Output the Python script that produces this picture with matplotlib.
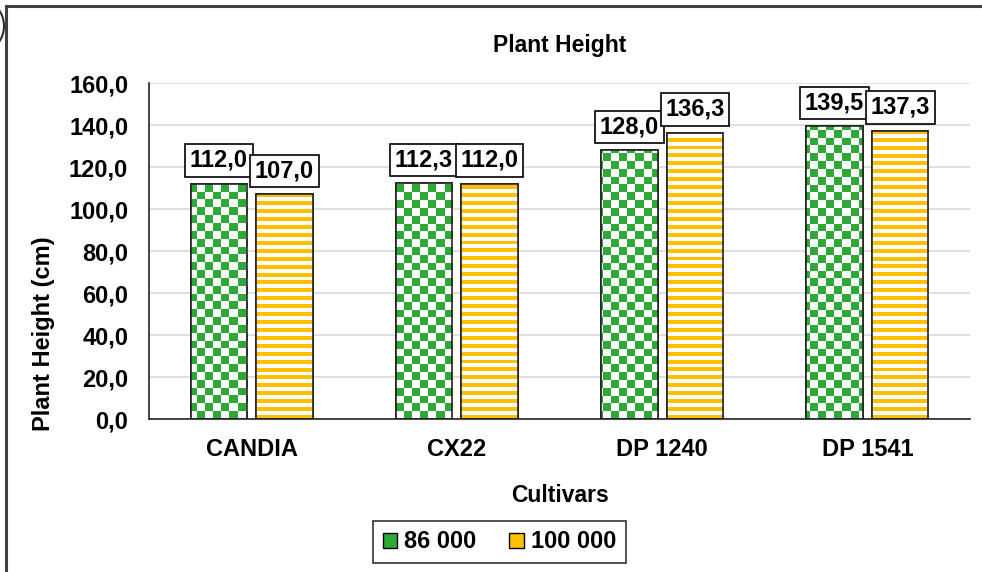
import numpy as np
import matplotlib
matplotlib.use("Agg")
import matplotlib.pyplot as plt
from matplotlib.patches import Patch, Arc
from matplotlib.lines import Line2D

plt.rcParams['font.family'] = ['Liberation Sans', 'DejaVu Sans']
plt.rcParams['font.weight'] = 'bold'

cultivars = ['CANDIA', 'CX22', 'DP 1240', 'DP 1541']
series_names = ['86 000', '100 000']
h_86000 = [112.0, 112.3, 128.0, 139.5]
h_100000 = [107.0, 112.0, 136.3, 137.3]
yticks = [0, 20, 40, 60, 80, 100, 120, 140, 160]

green = '#2ea836'
gold = '#ffc000'

W, H = 982, 572
fig = plt.figure(figsize=(W / 100, H / 100), dpi=100)
ax = fig.add_axes([149 / W, 1 - 419 / H, 821 / W, 336 / H])

x = np.arange(len(cultivars))
bw = 0.275
off = 0.16
ax.set_xlim(-0.5, len(cultivars) - 0.5)
ax.set_ylim(0, 160)

# textures (checkerboard / horizontal stripes) laid over whole axes, clipped to bars
nx, ny = 821 // 8 + 1, 336 // 8 + 1
ii, jj = np.meshgrid(np.arange(nx), np.arange(ny))
checker = np.where(((ii + jj) % 2)[..., None] == 0,
                   np.array(matplotlib.colors.to_rgb(green)),
                   np.array([1.0, 1.0, 1.0]))
rows = np.arange(336 // 4 + 1)
stripes = np.where((rows % 2 == 0)[:, None, None],
                   np.array(matplotlib.colors.to_rgb(gold)),
                   np.array([1.0, 1.0, 1.0])) * np.ones((1, 2, 1))

ext = (-0.5, len(cultivars) - 0.5, 0, 160)
b1 = ax.bar(x - off, h_86000, bw, facecolor='white', edgecolor='#222222', linewidth=1.2, zorder=2)
b2 = ax.bar(x + off, h_100000, bw, facecolor='white', edgecolor='#222222', linewidth=1.2, zorder=2)
for bars, tex in [(b1, checker), (b2, stripes)]:
    for r in bars:
        im = ax.imshow(tex, extent=ext, origin='lower', aspect='auto',
                       interpolation='nearest', zorder=2.5)
        im.set_clip_path(r)
        edge = plt.Rectangle(r.get_xy(), r.get_width(), r.get_height(), fill=False,
                             edgecolor='#222222', linewidth=1.2, zorder=3)
        ax.add_patch(edge)

for bars, vals in [(b1, h_86000), (b2, h_100000)]:
    for r, v in zip(bars, vals):
        ax.annotate(('%.1f' % v).replace('.', ','),
                    (r.get_x() + r.get_width() / 2, v), xytext=(0, 8.5),
                    textcoords='offset points', ha='center', va='bottom',
                    fontsize=17, fontweight='bold', zorder=5,
                    bbox=dict(boxstyle='square,pad=0.2', fc='white', ec='black', lw=1.2))

ax.set_xticks(x)
ax.set_xticklabels(cultivars, fontsize=17, fontweight='bold')
ax.set_yticks(yticks)
ax.set_yticklabels([('%.1f' % v).replace('.', ',') for v in yticks], fontsize=17, fontweight='bold')
ax.tick_params(length=0, pad=15)
ax.tick_params(axis='x', pad=14)
ax.grid(axis='y', color='#d9d9d9', linewidth=1.2, zorder=0)
ax.set_axisbelow(True)
for s in ['top', 'right']:
    ax.spines[s].set_visible(False)
ax.spines['left'].set_color('#222222')
ax.spines['bottom'].set_color('#222222')
ax.spines['left'].set_linewidth(1.2)
ax.spines['bottom'].set_linewidth(1.2)

ax.set_title('Plant Height', fontsize=16.5, fontweight='bold', pad=22)
ax.set_xlabel('Cultivars', fontsize=16.5, fontweight='bold', labelpad=16)
# axis title sits lower than the plot centre in the original
fig.text(44 / W, 1 - 334 / H, 'Plant Height (cm)', rotation=90, ha='center', va='center',
         fontsize=17, fontweight='bold')

handles = [Patch(facecolor=green, edgecolor='black', linewidth=1),
           Patch(facecolor=gold, edgecolor='black', linewidth=1)]
leg = fig.legend(handles, series_names, loc='center', bbox_to_anchor=(499.5 / W, 1 - 542 / H),
                 ncol=2, prop={'weight': 'bold', 'size': 17},
                 frameon=True, fancybox=False, edgecolor='black',
                 handlelength=0.6, handleheight=0.6, handletextpad=0.3, columnspacing=1.4,
                 borderpad=0.4)
leg.get_frame().set_linewidth(1.2)

# outer chart frame (only the top and left edges show) and cropped circle mark
fig.add_artist(Line2D([5.5 / W, 5.5 / W], [0, 1 - 5.5 / H], color='#404040', lw=2.2))
fig.add_artist(Line2D([5.5 / W, 1], [1 - 5.5 / H, 1 - 5.5 / H], color='#404040', lw=2.2))
fig.add_artist(Arc((-16 / W, 1 - 26 / H), 40 / W, 48 / H, color='#303030', lw=1.5))

fig.savefig('out.png', dpi=100)
